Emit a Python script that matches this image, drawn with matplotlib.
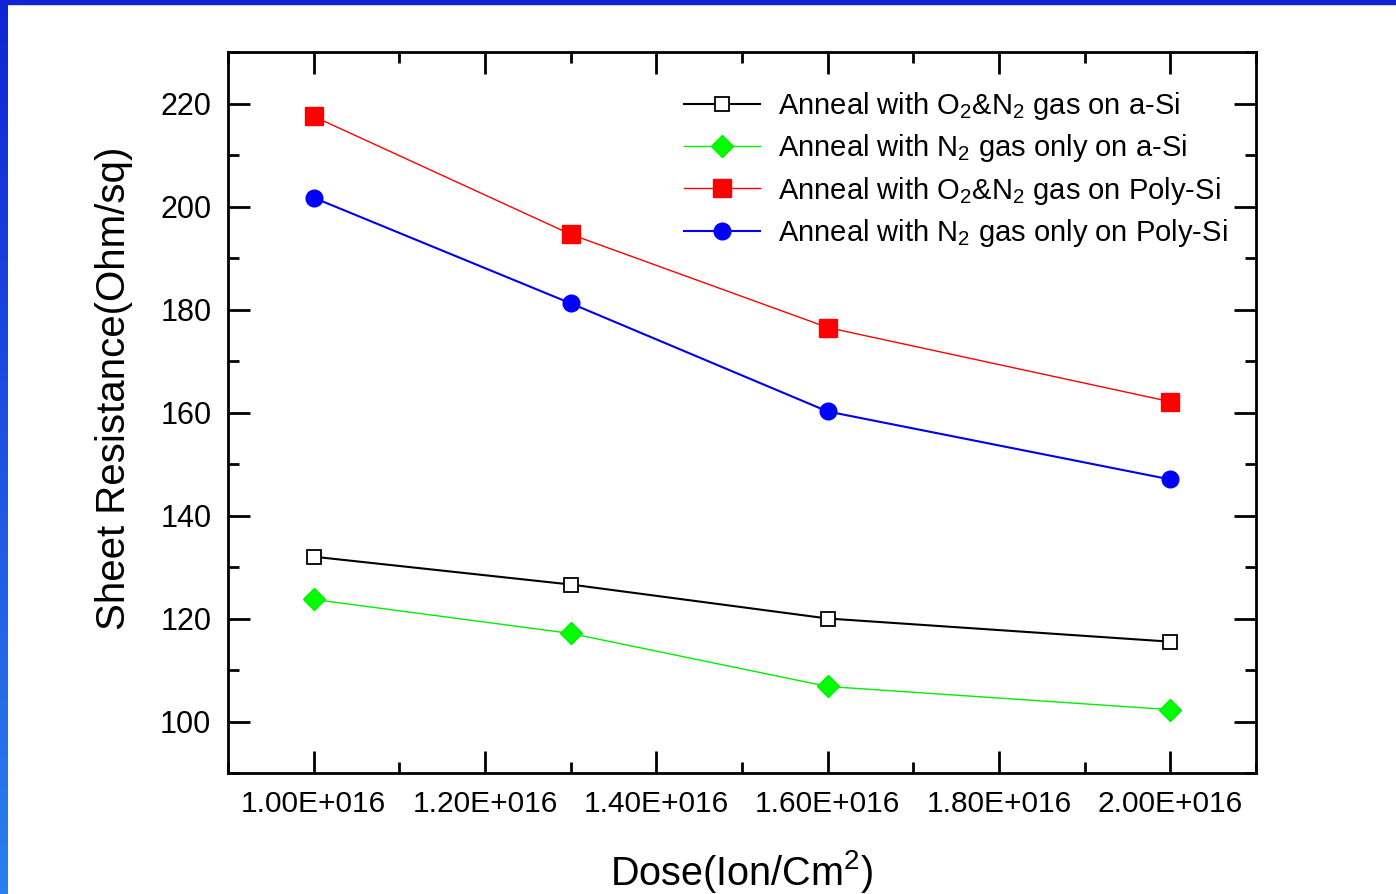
import matplotlib.pyplot as plt
import numpy as np
from matplotlib.patches import Rectangle
from matplotlib.ticker import MultipleLocator, FuncFormatter

plt.rcParams['font.family'] = ['Liberation Sans', 'DejaVu Sans']
plt.rcParams['mathtext.fontset'] = 'custom'
plt.rcParams['mathtext.rm'] = 'Liberation Sans'

# Data (dose in units of 1E16 ion/cm^2)
dose = [1.0, 1.3, 1.6, 2.0]
o2n2_asi = [132.0, 126.6, 120.0, 115.5]
n2_asi = [123.7, 117.1, 106.8, 102.3]
o2n2_poly = [217.5, 194.6, 176.5, 162.1]
n2_poly = [201.7, 181.2, 160.2, 147.0]

labels = [r"Anneal with O$_2$&N$_2$ gas on a-Si",
          r"Anneal with N$_2$ gas only on a-Si",
          r"Anneal with O$_2$&N$_2$ gas on Poly-Si",
          r"Anneal with N$_2$ gas only on Poly-Si"]

fig = plt.figure(figsize=(13.96, 8.94), dpi=100)

# blue slide border (top + left gradient)
fig.patches.append(Rectangle((0, 1 - 4 / 894), 1, 4 / 894, transform=fig.transFigure,
                             color='#1024d4', zorder=0))
grad = np.linspace(0, 1, 256).reshape(-1, 1)
bar_ax = fig.add_axes([0, 0, 7 / 1396, 1])
bar_ax.imshow(grad, aspect='auto', extent=[0, 1, 0, 1],
              cmap=plt.matplotlib.colors.LinearSegmentedColormap.from_list(
                  'b', ['#2a80ee', '#1024d4']), origin='lower')
bar_ax.axis('off')

ax = fig.add_axes([228 / 1396, 1 - 773 / 894, (1256 - 228) / 1396, (773 - 52) / 894])

ax.plot(dose, o2n2_asi, color='black', lw=1.5, marker='s', ms=10,
        mfc='white', mec='black', mew=1.3, label=labels[0])
ax.plot(dose, n2_asi, color='#00ee00', lw=1.0, marker='D', ms=11,
        mfc='#00ff00', mec='#00ee00', label=labels[1])
ax.plot(dose, o2n2_poly, color='red', lw=1.0, marker='s', ms=13,
        mfc='red', mec='red', label=labels[2])
ax.plot(dose, n2_poly, color='#0000ee', lw=1.5, marker='o', ms=12,
        mfc='#0000ff', mec='#0000ff', label=labels[3])

ax.set_xlim(0.9, 2.1)
ax.set_ylim(90, 230)
ax.xaxis.set_major_locator(MultipleLocator(0.2))
ax.xaxis.set_minor_locator(MultipleLocator(0.1))
ax.yaxis.set_major_locator(MultipleLocator(20))
ax.yaxis.set_minor_locator(MultipleLocator(10))
ax.xaxis.set_major_formatter(FuncFormatter(lambda v, p: f"{v:.2f}E+016"))

ax.tick_params(which='both', direction='in', top=True, right=True, width=2,
               colors='black')
ax.tick_params(axis='x', labelsize=21.5)
ax.tick_params(axis='y', labelsize=22)
ax.tick_params(which='major', length=16, pad=12)
ax.tick_params(which='minor', length=8)
for s in ax.spines.values():
    s.set_linewidth(2)

ax.set_xlabel(r"Dose(Ion/Cm$^2$)", fontsize=28.5, labelpad=22)
ax.set_ylabel("Sheet Resistance(Ohm/sq)", fontsize=29)
ax.yaxis.set_label_coords(-0.092, 0.533)

ax.legend(loc='upper left', bbox_to_anchor=(0.4436, 0.947), frameon=False,
          fontsize=21, handlelength=2.6, handletextpad=0.62, labelspacing=0.35,
          borderaxespad=0, borderpad=0)

fig.savefig("out.png", dpi=100)
